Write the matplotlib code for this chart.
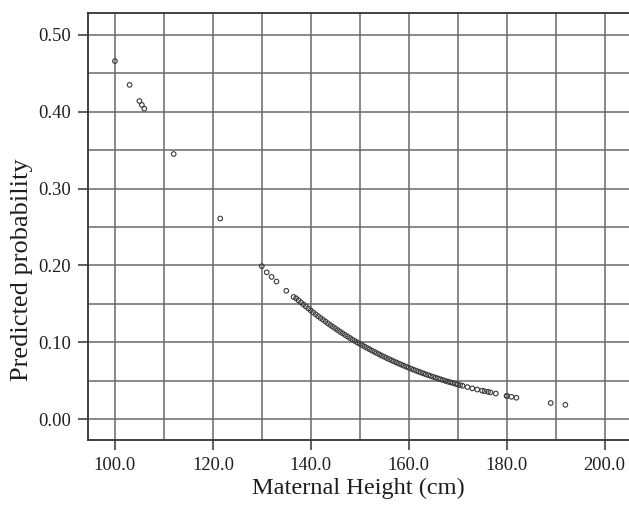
import matplotlib
matplotlib.use("Agg")
import matplotlib.pyplot as plt
from matplotlib.ticker import MultipleLocator, FormatStrFormatter

heights = [100.0, 103.0, 105.0, 105.5, 106.0, 112.0, 121.5, 130.0, 131.0, 132.0, 133.0, 135.0, 136.5,
           137.0, 137.5, 138.0, 138.5, 139.0, 139.5, 140.0, 140.5, 141.0, 141.5, 142.0, 142.5,
           143.0, 143.5, 144.0, 144.5, 145.0, 145.5, 146.0, 146.5, 147.0, 147.5, 148.0, 148.5,
           149.0, 149.5, 150.0, 150.5, 151.0, 151.5, 152.0, 152.5, 153.0, 153.5, 154.0, 154.5,
           155.0, 155.5, 156.0, 156.5, 157.0, 157.5, 158.0, 158.5, 159.0, 159.5, 160.0, 160.5,
           161.0, 161.5, 162.0, 162.5, 163.0, 163.5, 164.0, 164.5, 165.0, 165.5, 166.0, 166.5,
           167.0, 167.5, 168.0, 168.5, 169.0, 169.5, 170.0, 170.5, 171.0, 172.0, 173.0, 174.0,
           175.0, 175.5, 176.2, 176.7, 177.8, 180.0, 180.1, 181.0, 182.0, 189.0, 192.0]
probs = [0.466, 0.435, 0.414, 0.409, 0.404, 0.345, 0.261, 0.199, 0.191, 0.185, 0.179, 0.167, 0.159,
         0.1572, 0.1545, 0.1518, 0.1492, 0.1465, 0.1439, 0.1414, 0.1388, 0.1364, 0.1339, 0.1315, 0.1292,
         0.1269, 0.1246, 0.1223, 0.1201, 0.1179, 0.1158, 0.1136, 0.1116, 0.1095, 0.1075, 0.1055, 0.1035,
         0.1016, 0.0997, 0.0979, 0.0961, 0.0943, 0.0925, 0.0908, 0.0891, 0.0874, 0.0858, 0.0841, 0.0825,
         0.0810, 0.0794, 0.0779, 0.0764, 0.0750, 0.0736, 0.0721, 0.0708, 0.0694, 0.0681, 0.0668, 0.0655,
         0.0642, 0.0630, 0.0617, 0.0606, 0.0594, 0.0582, 0.0571, 0.0560, 0.0549, 0.0538, 0.0528, 0.0517,
         0.0507, 0.0497, 0.0487, 0.0478, 0.0469, 0.0459, 0.0450, 0.0441, 0.0433, 0.0416, 0.0399, 0.0384,
         0.0369, 0.0362, 0.0354, 0.0347, 0.0332, 0.0301, 0.0300, 0.0289, 0.0277, 0.0209, 0.0185]

x_label = "Maternal Height (cm)"
y_label = "Predicted probability"

plt.rcParams['font.family'] = ['Liberation Serif', 'DejaVu Serif']

fig = plt.figure(figsize=(6.29, 5.05), dpi=100)
ax = fig.add_axes([88/629, 65/505, 1 - 88/629, 427/505])

ax.scatter(heights, probs, s=11, facecolors='none', edgecolors='#3a3a3a', linewidths=0.8, zorder=3)

ax.set_xlim(94.5, 205.0)
ax.set_ylim(-0.0273, 0.5286)

ax.xaxis.set_major_locator(MultipleLocator(20))
ax.xaxis.set_minor_locator(MultipleLocator(10))
ax.yaxis.set_major_locator(MultipleLocator(0.1))
ax.yaxis.set_minor_locator(MultipleLocator(0.05))
ax.xaxis.set_major_formatter(FormatStrFormatter('%.1f'))
ax.yaxis.set_major_formatter(FormatStrFormatter('%.2f'))

ax.grid(True, which='both', color='#6a6a6a', linewidth=1.1, zorder=1)
ax.set_axisbelow(True)

for s in ['left', 'bottom', 'top']:
    ax.spines[s].set_color('#333333')
    ax.spines[s].set_linewidth(1.3)
ax.spines['right'].set_visible(False)

ax.tick_params(which='major', direction='out', length=7, width=1.1, color='#333333',
               labelsize=13.3, labelcolor='#1e1e1e', pad=5)
ax.tick_params(which='minor', length=0)

ax.set_xlabel(x_label, fontsize=17.6, color='#1e1e1e', labelpad=3)
ax.set_ylabel(y_label, fontsize=19, color='#1e1e1e')
ax.yaxis.set_label_coords(-0.101, 0.398)

fig.savefig("out.png", dpi=100)
